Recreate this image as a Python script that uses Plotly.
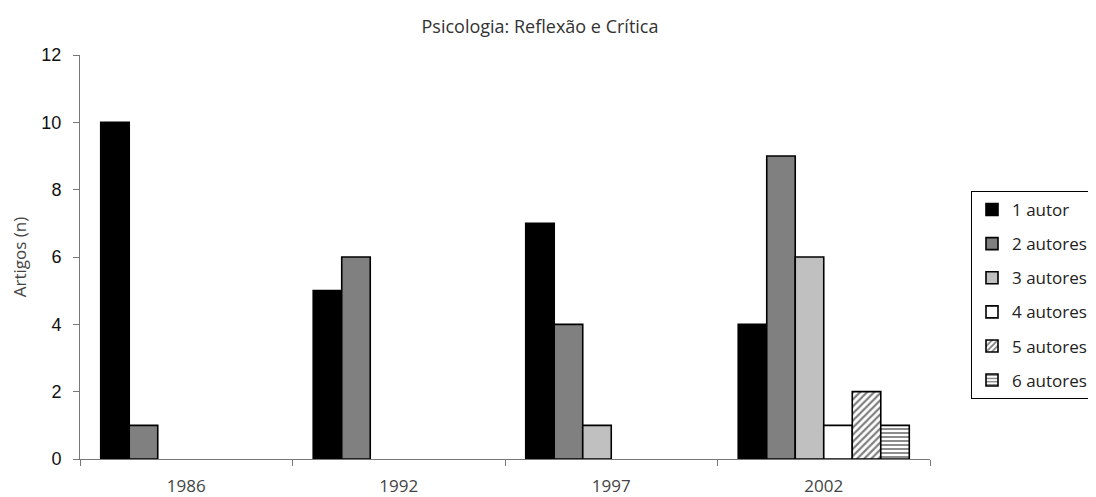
import plotly.graph_objects as go

years = ["1986", "1992", "1997", "2002"]
series_names = ["1 autor", "2 autores", "3 autores", "4 autores", "5 autores", "6 autores"]
# None = no articles that year (no bar drawn)
v1 = [10, 5, 7, 4]
v2 = [1, 6, 4, 9]
v3 = [None, None, 1, 6]
v4 = [None, None, None, 1]
v5 = [None, None, None, 2]
v6 = [None, None, None, 1]
values = [v1, v2, v3, v4, v5, v6]

fills = ["#000000", "#808080", "#c0c0c0", "#ffffff", "#ffffff", "#ffffff"]
patterns = ["", "", "", "", "/", "-"]
pat_sizes = [0, 0, 0, 0, 5, 4]

W, H = 1088, 489  # page body has an 8px margin in the 1096x497 window
L, R, T, B = 72, 166, 47, 38
PW = W - L - R
PH = H - T - B

fig = go.Figure()
for i, (name, vals) in enumerate(zip(series_names, values)):
    marker = dict(color=fills[i], line=dict(color="#000000", width=1.6))
    if patterns[i]:
        marker["pattern"] = dict(shape=patterns[i], fgcolor="#000000", bgcolor="#ffffff",
                                 size=pat_sizes[i], solidity=0.45)
    fig.add_trace(go.Bar(x=years, y=vals, name=name, marker=marker, legendgroup=name))

FONT = "Open Sans, Noto Sans, sans-serif"
fig.update_layout(
    width=W, height=H,
    barmode="group", bargap=0.195, bargroupgap=0,
    plot_bgcolor="#ffffff", paper_bgcolor="#ffffff",
    margin=dict(l=L, r=R, t=T, b=B, autoexpand=False),
    title=dict(text="Psicologia: Reflexão e Crítica", x=532 / W, xanchor="center",
               y=1 - 19 / H, yanchor="middle",
               font=dict(family=FONT, size=18, color="#333333")),
    legend=dict(x=(963 - L) / PW, xanchor="left", y=(T + PH - 183) / PH,
                yanchor="top",
                bordercolor="#000000", borderwidth=1, bgcolor="#ffffff",
                font=dict(family=FONT, size=17, color="#222222"),
                tracegroupgap=9, itemwidth=30),
    showlegend=True,
)
fig.update_xaxes(type="category", showline=True, linecolor="#777777", linewidth=1,
                 ticks="outside", tickson="boundaries", ticklen=6, tickcolor="#777777",
                 tickfont=dict(family=FONT, size=17, color="#444444"),
                 ticklabelstandoff=12, automargin=False, showgrid=False)
fig.update_yaxes(range=[0, 12], dtick=2, showline=True, linecolor="#777777", linewidth=1,
                 ticks="outside", ticklen=6, tickcolor="#777777", showgrid=False, zeroline=False,
                 tickfont=dict(family="Liberation Sans, Arial, sans-serif", size=18, color="#111111"),
                 ticklabelstandoff=8, automargin=False,
                 title=dict(text="Artigos (n)", standoff=20,
                            font=dict(family=FONT, size=17, color="#444444")))

fig.write_html("out.html")
